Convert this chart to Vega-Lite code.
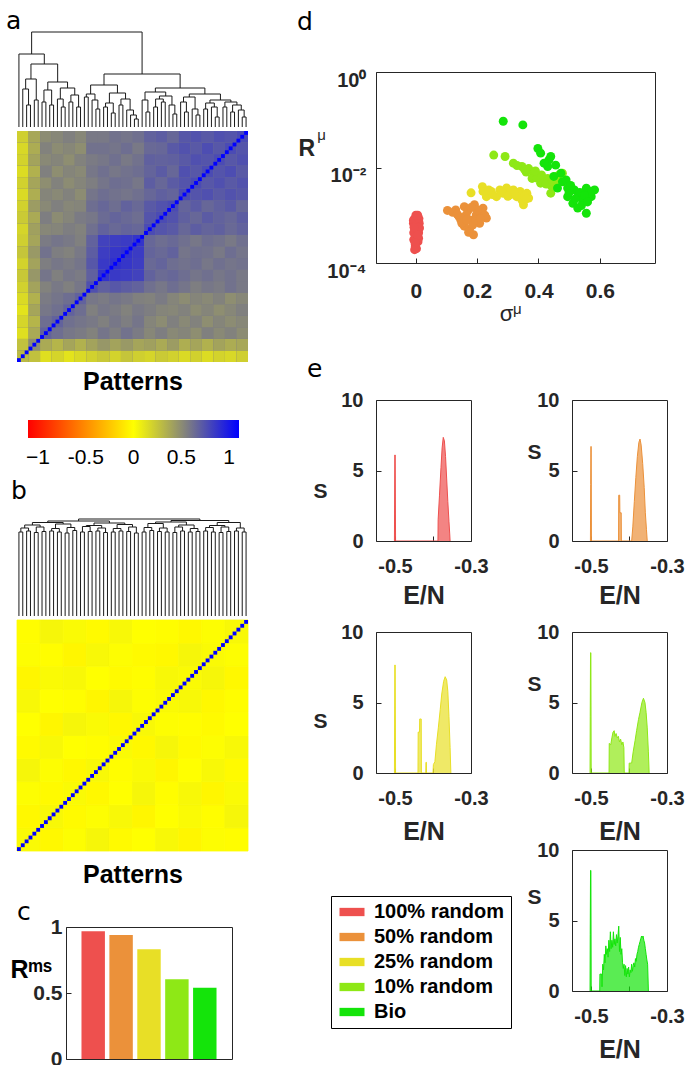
{
"$schema": "https://vega.github.io/schema/vega-lite/v6.json",
"padding": 0,
"background": "white",
"config": {
  "view": {"stroke": null},
  "font": "Liberation Sans",
  "axis": {"grid": false, "domain": false, "ticks": true, "tickSize": -5, "tickColor": "#262626", "labelFont": "Liberation Sans", "labelFontWeight": "bold", "labelFontSize": 20, "labelColor": "#262626", "titleFont": "Liberation Sans", "titleFontWeight": "bold", "titleColor": "#262626", "labelFlush": false, "labelOverlap": false},
  "title": {"font": "DejaVu Sans", "fontSize": 25, "fontWeight": "normal", "color": "#000", "anchor": "start", "frame": "group", "offset": 0}
},
"datasets": {
  "diag": [{"p":0},{"p":1},{"p":2},{"p":3},{"p":4},{"p":5},{"p":6},{"p":7},{"p":8},{"p":9},{"p":10},{"p":11},{"p":12},{"p":13},{"p":14},{"p":15},{"p":16},{"p":17},{"p":18},{"p":19},{"p":20},{"p":21},{"p":22},{"p":23},{"p":24},{"p":25},{"p":26},{"p":27},{"p":28},{"p":29},{"p":30},{"p":31},{"p":32},{"p":33},{"p":34},{"p":35},{"p":36},{"p":37},{"p":38},{"p":39},{"p":40},{"p":41},{"p":42},{"p":43},{"p":44},{"p":45},{"p":46},{"p":47},{"p":48},{"p":49},{"p":50},{"p":51},{"p":52},{"p":53},{"p":54},{"p":55},{"p":56},{"p":57},{"p":58},{"p":59}],
  "heatA": [
{"c":0,"r":0,"v":0.30},{"c":1,"r":0,"v":0.27},{"c":2,"r":0,"v":0.14},{"c":3,"r":0,"v":0.18},{"c":4,"r":0,"v":0.12},{"c":5,"r":0,"v":0.16},{"c":6,"r":0,"v":0.20},{"c":7,"r":0,"v":0.24},{"c":8,"r":0,"v":0.19},{"c":9,"r":0,"v":0.25},{"c":10,"r":0,"v":0.21},{"c":11,"r":0,"v":0.18},{"c":12,"r":0,"v":0.23},{"c":13,"r":0,"v":0.20},{"c":14,"r":0,"v":0.16},{"c":15,"r":0,"v":0.20},{"c":16,"r":0,"v":0.15},{"c":17,"r":0,"v":0.19},{"c":18,"r":0,"v":0.17},{"c":19,"r":0,"v":0.21},
{"c":0,"r":1,"v":0.27},{"c":1,"r":1,"v":0.50},{"c":2,"r":1,"v":0.37},{"c":3,"r":1,"v":0.32},{"c":4,"r":1,"v":0.39},{"c":5,"r":1,"v":0.34},{"c":6,"r":1,"v":0.40},{"c":7,"r":1,"v":0.45},{"c":8,"r":1,"v":0.40},{"c":9,"r":1,"v":0.44},{"c":10,"r":1,"v":0.39},{"c":11,"r":1,"v":0.41},{"c":12,"r":1,"v":0.37},{"c":13,"r":1,"v":0.43},{"c":14,"r":1,"v":0.35},{"c":15,"r":1,"v":0.39},{"c":16,"r":1,"v":0.34},{"c":17,"r":1,"v":0.40},{"c":18,"r":1,"v":0.36},{"c":19,"r":1,"v":0.38},
{"c":0,"r":2,"v":0.14},{"c":1,"r":2,"v":0.37},{"c":2,"r":2,"v":0.68},{"c":3,"r":2,"v":0.63},{"c":4,"r":2,"v":0.59},{"c":5,"r":2,"v":0.57},{"c":6,"r":2,"v":0.54},{"c":7,"r":2,"v":0.60},{"c":8,"r":2,"v":0.56},{"c":9,"r":2,"v":0.61},{"c":10,"r":2,"v":0.57},{"c":11,"r":2,"v":0.52},{"c":12,"r":2,"v":0.56},{"c":13,"r":2,"v":0.51},{"c":14,"r":2,"v":0.53},{"c":15,"r":2,"v":0.49},{"c":16,"r":2,"v":0.55},{"c":17,"r":2,"v":0.51},{"c":18,"r":2,"v":0.54},{"c":19,"r":2,"v":0.50},
{"c":0,"r":3,"v":0.18},{"c":1,"r":3,"v":0.32},{"c":2,"r":3,"v":0.63},{"c":3,"r":3,"v":0.68},{"c":4,"r":3,"v":0.62},{"c":5,"r":3,"v":0.60},{"c":6,"r":3,"v":0.58},{"c":7,"r":3,"v":0.55},{"c":8,"r":3,"v":0.59},{"c":9,"r":3,"v":0.56},{"c":10,"r":3,"v":0.60},{"c":11,"r":3,"v":0.53},{"c":12,"r":3,"v":0.50},{"c":13,"r":3,"v":0.55},{"c":14,"r":3,"v":0.51},{"c":15,"r":3,"v":0.54},{"c":16,"r":3,"v":0.49},{"c":17,"r":3,"v":0.53},{"c":18,"r":3,"v":0.50},{"c":19,"r":3,"v":0.52},
{"c":0,"r":4,"v":0.12},{"c":1,"r":4,"v":0.39},{"c":2,"r":4,"v":0.59},{"c":3,"r":4,"v":0.62},{"c":4,"r":4,"v":0.68},{"c":5,"r":4,"v":0.63},{"c":6,"r":4,"v":0.55},{"c":7,"r":4,"v":0.59},{"c":8,"r":4,"v":0.57},{"c":9,"r":4,"v":0.54},{"c":10,"r":4,"v":0.58},{"c":11,"r":4,"v":0.56},{"c":12,"r":4,"v":0.53},{"c":13,"r":4,"v":0.52},{"c":14,"r":4,"v":0.54},{"c":15,"r":4,"v":0.50},{"c":16,"r":4,"v":0.53},{"c":17,"r":4,"v":0.49},{"c":18,"r":4,"v":0.52},{"c":19,"r":4,"v":0.55},
{"c":0,"r":5,"v":0.16},{"c":1,"r":5,"v":0.34},{"c":2,"r":5,"v":0.57},{"c":3,"r":5,"v":0.60},{"c":4,"r":5,"v":0.63},{"c":5,"r":5,"v":0.68},{"c":6,"r":5,"v":0.59},{"c":7,"r":5,"v":0.57},{"c":8,"r":5,"v":0.60},{"c":9,"r":5,"v":0.58},{"c":10,"r":5,"v":0.55},{"c":11,"r":5,"v":0.54},{"c":12,"r":5,"v":0.57},{"c":13,"r":5,"v":0.53},{"c":14,"r":5,"v":0.50},{"c":15,"r":5,"v":0.53},{"c":16,"r":5,"v":0.51},{"c":17,"r":5,"v":0.54},{"c":18,"r":5,"v":0.49},{"c":19,"r":5,"v":0.52},
{"c":0,"r":6,"v":0.20},{"c":1,"r":6,"v":0.40},{"c":2,"r":6,"v":0.54},{"c":3,"r":6,"v":0.58},{"c":4,"r":6,"v":0.55},{"c":5,"r":6,"v":0.59},{"c":6,"r":6,"v":0.76},{"c":7,"r":6,"v":0.69},{"c":8,"r":6,"v":0.73},{"c":9,"r":6,"v":0.70},{"c":10,"r":6,"v":0.68},{"c":11,"r":6,"v":0.62},{"c":12,"r":6,"v":0.59},{"c":13,"r":6,"v":0.63},{"c":14,"r":6,"v":0.60},{"c":15,"r":6,"v":0.56},{"c":16,"r":6,"v":0.59},{"c":17,"r":6,"v":0.57},{"c":18,"r":6,"v":0.61},{"c":19,"r":6,"v":0.58},
{"c":0,"r":7,"v":0.24},{"c":1,"r":7,"v":0.45},{"c":2,"r":7,"v":0.60},{"c":3,"r":7,"v":0.55},{"c":4,"r":7,"v":0.59},{"c":5,"r":7,"v":0.57},{"c":6,"r":7,"v":0.69},{"c":7,"r":7,"v":0.89},{"c":8,"r":7,"v":0.86},{"c":9,"r":7,"v":0.84},{"c":10,"r":7,"v":0.82},{"c":11,"r":7,"v":0.68},{"c":12,"r":7,"v":0.64},{"c":13,"r":7,"v":0.66},{"c":14,"r":7,"v":0.63},{"c":15,"r":7,"v":0.60},{"c":16,"r":7,"v":0.62},{"c":17,"r":7,"v":0.59},{"c":18,"r":7,"v":0.61},{"c":19,"r":7,"v":0.58},
{"c":0,"r":8,"v":0.19},{"c":1,"r":8,"v":0.40},{"c":2,"r":8,"v":0.56},{"c":3,"r":8,"v":0.59},{"c":4,"r":8,"v":0.57},{"c":5,"r":8,"v":0.60},{"c":6,"r":8,"v":0.73},{"c":7,"r":8,"v":0.86},{"c":8,"r":8,"v":0.90},{"c":9,"r":8,"v":0.87},{"c":10,"r":8,"v":0.84},{"c":11,"r":8,"v":0.65},{"c":12,"r":8,"v":0.67},{"c":13,"r":8,"v":0.63},{"c":14,"r":8,"v":0.61},{"c":15,"r":8,"v":0.63},{"c":16,"r":8,"v":0.59},{"c":17,"r":8,"v":0.62},{"c":18,"r":8,"v":0.60},{"c":19,"r":8,"v":0.61},
{"c":0,"r":9,"v":0.25},{"c":1,"r":9,"v":0.44},{"c":2,"r":9,"v":0.61},{"c":3,"r":9,"v":0.56},{"c":4,"r":9,"v":0.54},{"c":5,"r":9,"v":0.58},{"c":6,"r":9,"v":0.70},{"c":7,"r":9,"v":0.84},{"c":8,"r":9,"v":0.87},{"c":9,"r":9,"v":0.89},{"c":10,"r":9,"v":0.85},{"c":11,"r":9,"v":0.67},{"c":12,"r":9,"v":0.65},{"c":13,"r":9,"v":0.68},{"c":14,"r":9,"v":0.60},{"c":15,"r":9,"v":0.62},{"c":16,"r":9,"v":0.61},{"c":17,"r":9,"v":0.58},{"c":18,"r":9,"v":0.63},{"c":19,"r":9,"v":0.60},
{"c":0,"r":10,"v":0.21},{"c":1,"r":10,"v":0.39},{"c":2,"r":10,"v":0.57},{"c":3,"r":10,"v":0.60},{"c":4,"r":10,"v":0.58},{"c":5,"r":10,"v":0.55},{"c":6,"r":10,"v":0.68},{"c":7,"r":10,"v":0.82},{"c":8,"r":10,"v":0.84},{"c":9,"r":10,"v":0.85},{"c":10,"r":10,"v":0.88},{"c":11,"r":10,"v":0.66},{"c":12,"r":10,"v":0.63},{"c":13,"r":10,"v":0.65},{"c":14,"r":10,"v":0.62},{"c":15,"r":10,"v":0.59},{"c":16,"r":10,"v":0.63},{"c":17,"r":10,"v":0.61},{"c":18,"r":10,"v":0.58},{"c":19,"r":10,"v":0.62},
{"c":0,"r":11,"v":0.18},{"c":1,"r":11,"v":0.41},{"c":2,"r":11,"v":0.52},{"c":3,"r":11,"v":0.53},{"c":4,"r":11,"v":0.56},{"c":5,"r":11,"v":0.54},{"c":6,"r":11,"v":0.62},{"c":7,"r":11,"v":0.68},{"c":8,"r":11,"v":0.65},{"c":9,"r":11,"v":0.67},{"c":10,"r":11,"v":0.66},{"c":11,"r":11,"v":0.78},{"c":12,"r":11,"v":0.74},{"c":13,"r":11,"v":0.72},{"c":14,"r":11,"v":0.66},{"c":15,"r":11,"v":0.70},{"c":16,"r":11,"v":0.67},{"c":17,"r":11,"v":0.69},{"c":18,"r":11,"v":0.65},{"c":19,"r":11,"v":0.68},
{"c":0,"r":12,"v":0.23},{"c":1,"r":12,"v":0.37},{"c":2,"r":12,"v":0.56},{"c":3,"r":12,"v":0.50},{"c":4,"r":12,"v":0.53},{"c":5,"r":12,"v":0.57},{"c":6,"r":12,"v":0.59},{"c":7,"r":12,"v":0.64},{"c":8,"r":12,"v":0.67},{"c":9,"r":12,"v":0.65},{"c":10,"r":12,"v":0.63},{"c":11,"r":12,"v":0.74},{"c":12,"r":12,"v":0.78},{"c":13,"r":12,"v":0.75},{"c":14,"r":12,"v":0.69},{"c":15,"r":12,"v":0.66},{"c":16,"r":12,"v":0.71},{"c":17,"r":12,"v":0.68},{"c":18,"r":12,"v":0.66},{"c":19,"r":12,"v":0.70},
{"c":0,"r":13,"v":0.20},{"c":1,"r":13,"v":0.43},{"c":2,"r":13,"v":0.51},{"c":3,"r":13,"v":0.55},{"c":4,"r":13,"v":0.52},{"c":5,"r":13,"v":0.53},{"c":6,"r":13,"v":0.63},{"c":7,"r":13,"v":0.66},{"c":8,"r":13,"v":0.63},{"c":9,"r":13,"v":0.68},{"c":10,"r":13,"v":0.65},{"c":11,"r":13,"v":0.72},{"c":12,"r":13,"v":0.75},{"c":13,"r":13,"v":0.78},{"c":14,"r":13,"v":0.67},{"c":15,"r":13,"v":0.71},{"c":16,"r":13,"v":0.66},{"c":17,"r":13,"v":0.69},{"c":18,"r":13,"v":0.72},{"c":19,"r":13,"v":0.66},
{"c":0,"r":14,"v":0.16},{"c":1,"r":14,"v":0.35},{"c":2,"r":14,"v":0.53},{"c":3,"r":14,"v":0.51},{"c":4,"r":14,"v":0.54},{"c":5,"r":14,"v":0.50},{"c":6,"r":14,"v":0.60},{"c":7,"r":14,"v":0.63},{"c":8,"r":14,"v":0.61},{"c":9,"r":14,"v":0.60},{"c":10,"r":14,"v":0.62},{"c":11,"r":14,"v":0.66},{"c":12,"r":14,"v":0.69},{"c":13,"r":14,"v":0.67},{"c":14,"r":14,"v":0.78},{"c":15,"r":14,"v":0.74},{"c":16,"r":14,"v":0.76},{"c":17,"r":14,"v":0.72},{"c":18,"r":14,"v":0.75},{"c":19,"r":14,"v":0.73},
{"c":0,"r":15,"v":0.20},{"c":1,"r":15,"v":0.39},{"c":2,"r":15,"v":0.49},{"c":3,"r":15,"v":0.54},{"c":4,"r":15,"v":0.50},{"c":5,"r":15,"v":0.53},{"c":6,"r":15,"v":0.56},{"c":7,"r":15,"v":0.60},{"c":8,"r":15,"v":0.63},{"c":9,"r":15,"v":0.62},{"c":10,"r":15,"v":0.59},{"c":11,"r":15,"v":0.70},{"c":12,"r":15,"v":0.66},{"c":13,"r":15,"v":0.71},{"c":14,"r":15,"v":0.74},{"c":15,"r":15,"v":0.78},{"c":16,"r":15,"v":0.73},{"c":17,"r":15,"v":0.76},{"c":18,"r":15,"v":0.72},{"c":19,"r":15,"v":0.75},
{"c":0,"r":16,"v":0.15},{"c":1,"r":16,"v":0.34},{"c":2,"r":16,"v":0.55},{"c":3,"r":16,"v":0.49},{"c":4,"r":16,"v":0.53},{"c":5,"r":16,"v":0.51},{"c":6,"r":16,"v":0.59},{"c":7,"r":16,"v":0.62},{"c":8,"r":16,"v":0.59},{"c":9,"r":16,"v":0.61},{"c":10,"r":16,"v":0.63},{"c":11,"r":16,"v":0.67},{"c":12,"r":16,"v":0.71},{"c":13,"r":16,"v":0.66},{"c":14,"r":16,"v":0.76},{"c":15,"r":16,"v":0.73},{"c":16,"r":16,"v":0.78},{"c":17,"r":16,"v":0.74},{"c":18,"r":16,"v":0.77},{"c":19,"r":16,"v":0.72},
{"c":0,"r":17,"v":0.19},{"c":1,"r":17,"v":0.40},{"c":2,"r":17,"v":0.51},{"c":3,"r":17,"v":0.53},{"c":4,"r":17,"v":0.49},{"c":5,"r":17,"v":0.54},{"c":6,"r":17,"v":0.57},{"c":7,"r":17,"v":0.59},{"c":8,"r":17,"v":0.62},{"c":9,"r":17,"v":0.58},{"c":10,"r":17,"v":0.61},{"c":11,"r":17,"v":0.69},{"c":12,"r":17,"v":0.68},{"c":13,"r":17,"v":0.69},{"c":14,"r":17,"v":0.72},{"c":15,"r":17,"v":0.76},{"c":16,"r":17,"v":0.74},{"c":17,"r":17,"v":0.78},{"c":18,"r":17,"v":0.73},{"c":19,"r":17,"v":0.76},
{"c":0,"r":18,"v":0.17},{"c":1,"r":18,"v":0.36},{"c":2,"r":18,"v":0.54},{"c":3,"r":18,"v":0.50},{"c":4,"r":18,"v":0.52},{"c":5,"r":18,"v":0.49},{"c":6,"r":18,"v":0.61},{"c":7,"r":18,"v":0.61},{"c":8,"r":18,"v":0.60},{"c":9,"r":18,"v":0.63},{"c":10,"r":18,"v":0.58},{"c":11,"r":18,"v":0.65},{"c":12,"r":18,"v":0.66},{"c":13,"r":18,"v":0.72},{"c":14,"r":18,"v":0.75},{"c":15,"r":18,"v":0.72},{"c":16,"r":18,"v":0.77},{"c":17,"r":18,"v":0.73},{"c":18,"r":18,"v":0.78},{"c":19,"r":18,"v":0.74},
{"c":0,"r":19,"v":0.21},{"c":1,"r":19,"v":0.38},{"c":2,"r":19,"v":0.50},{"c":3,"r":19,"v":0.52},{"c":4,"r":19,"v":0.55},{"c":5,"r":19,"v":0.52},{"c":6,"r":19,"v":0.58},{"c":7,"r":19,"v":0.58},{"c":8,"r":19,"v":0.61},{"c":9,"r":19,"v":0.60},{"c":10,"r":19,"v":0.62},{"c":11,"r":19,"v":0.68},{"c":12,"r":19,"v":0.70},{"c":13,"r":19,"v":0.66},{"c":14,"r":19,"v":0.73},{"c":15,"r":19,"v":0.75},{"c":16,"r":19,"v":0.72},{"c":17,"r":19,"v":0.76},{"c":18,"r":19,"v":0.74},{"c":19,"r":19,"v":0.78}
  ],
  "heatB": [
{"c":0,"r":0,"v":0.02},{"c":1,"r":0,"v":-0.03},{"c":2,"r":0,"v":0.01},{"c":3,"r":0,"v":0.04},{"c":4,"r":0,"v":-0.02},{"c":5,"r":0,"v":0.0},{"c":6,"r":0,"v":0.03},{"c":7,"r":0,"v":-0.04},{"c":8,"r":0,"v":0.01},{"c":9,"r":0,"v":-0.01},
{"c":0,"r":1,"v":-0.03},{"c":1,"r":1,"v":0.03},{"c":2,"r":1,"v":-0.02},{"c":3,"r":1,"v":0.01},{"c":4,"r":1,"v":0.03},{"c":5,"r":1,"v":-0.04},{"c":6,"r":1,"v":0.0},{"c":7,"r":1,"v":0.02},{"c":8,"r":1,"v":-0.01},{"c":9,"r":1,"v":0.04},
{"c":0,"r":2,"v":0.01},{"c":1,"r":2,"v":-0.02},{"c":2,"r":2,"v":0.02},{"c":3,"r":2,"v":-0.03},{"c":4,"r":2,"v":0.0},{"c":5,"r":2,"v":0.04},{"c":6,"r":2,"v":-0.01},{"c":7,"r":2,"v":0.03},{"c":8,"r":2,"v":-0.04},{"c":9,"r":2,"v":0.02},
{"c":0,"r":3,"v":0.04},{"c":1,"r":3,"v":0.01},{"c":2,"r":3,"v":-0.03},{"c":3,"r":3,"v":0.03},{"c":4,"r":3,"v":-0.01},{"c":5,"r":3,"v":0.02},{"c":6,"r":3,"v":-0.04},{"c":7,"r":3,"v":0.0},{"c":8,"r":3,"v":0.03},{"c":9,"r":3,"v":-0.02},
{"c":0,"r":4,"v":-0.02},{"c":1,"r":4,"v":0.03},{"c":2,"r":4,"v":0.0},{"c":3,"r":4,"v":-0.01},{"c":4,"r":4,"v":0.02},{"c":5,"r":4,"v":-0.03},{"c":6,"r":4,"v":0.04},{"c":7,"r":4,"v":-0.02},{"c":8,"r":4,"v":0.01},{"c":9,"r":4,"v":0.03},
{"c":0,"r":5,"v":0.0},{"c":1,"r":5,"v":-0.04},{"c":2,"r":5,"v":0.04},{"c":3,"r":5,"v":0.02},{"c":4,"r":5,"v":-0.03},{"c":5,"r":5,"v":0.03},{"c":6,"r":5,"v":0.01},{"c":7,"r":5,"v":-0.01},{"c":8,"r":5,"v":-0.02},{"c":9,"r":5,"v":0.0},
{"c":0,"r":6,"v":0.03},{"c":1,"r":6,"v":0.0},{"c":2,"r":6,"v":-0.01},{"c":3,"r":6,"v":-0.04},{"c":4,"r":6,"v":0.04},{"c":5,"r":6,"v":0.01},{"c":6,"r":6,"v":0.02},{"c":7,"r":6,"v":0.03},{"c":8,"r":6,"v":-0.03},{"c":9,"r":6,"v":-0.01},
{"c":0,"r":7,"v":-0.04},{"c":1,"r":7,"v":0.02},{"c":2,"r":7,"v":0.03},{"c":3,"r":7,"v":0.0},{"c":4,"r":7,"v":-0.02},{"c":5,"r":7,"v":-0.01},{"c":6,"r":7,"v":0.03},{"c":7,"r":7,"v":0.02},{"c":8,"r":7,"v":0.04},{"c":9,"r":7,"v":-0.03},
{"c":0,"r":8,"v":0.01},{"c":1,"r":8,"v":-0.01},{"c":2,"r":8,"v":-0.04},{"c":3,"r":8,"v":0.03},{"c":4,"r":8,"v":0.01},{"c":5,"r":8,"v":-0.02},{"c":6,"r":8,"v":-0.03},{"c":7,"r":8,"v":0.04},{"c":8,"r":8,"v":0.02},{"c":9,"r":8,"v":0.01},
{"c":0,"r":9,"v":-0.01},{"c":1,"r":9,"v":0.04},{"c":2,"r":9,"v":0.02},{"c":3,"r":9,"v":-0.02},{"c":4,"r":9,"v":0.03},{"c":5,"r":9,"v":0.0},{"c":6,"r":9,"v":-0.01},{"c":7,"r":9,"v":-0.03},{"c":8,"r":9,"v":0.01},{"c":9,"r":9,"v":0.03}
  ],
  "dendA": [
{"xl":2.5,"hl":0,"xr":3.5,"hr":0,"h":22},{"xl":1.5,"hl":0,"xr":3.0,"hr":22,"h":38},{"xl":4.5,"hl":0,"xr":5.5,"hr":0,"h":27},{"xl":2.25,"hl":38,"xr":5.0,"hr":27,"h":48},
{"xl":6.5,"hl":0,"xr":7.5,"hr":0,"h":25},{"xl":8.5,"hl":0,"xr":9.5,"hr":0,"h":22},{"xl":7.0,"hl":25,"xr":9.0,"hr":22,"h":37},{"xl":11.5,"hl":0,"xr":12.5,"hr":0,"h":20},
{"xl":10.5,"hl":0,"xr":12.0,"hr":20,"h":28},{"xl":13.5,"hl":0,"xr":14.5,"hr":0,"h":25},{"xl":15.5,"hl":0,"xr":16.5,"hr":0,"h":20},{"xl":14.0,"hl":25,"xr":16.0,"hr":20,"h":32},
{"xl":11.25,"hl":28,"xr":15.0,"hr":32,"h":39},{"xl":8.0,"hl":37,"xr":13.125,"hr":39,"h":45},{"xl":3.625,"hl":48,"xr":10.5625,"hr":45,"h":63},{"xl":0.5,"hl":0,"xr":7.094,"hr":63,"h":73},
{"xl":17.5,"hl":0,"xr":18.5,"hr":0,"h":30},{"xl":20.5,"hl":0,"xr":21.5,"hr":0,"h":18},{"xl":19.5,"hl":0,"xr":21.0,"hr":18,"h":27},{"xl":18.0,"hl":30,"xr":20.25,"hr":27,"h":33},
{"xl":22.5,"hl":0,"xr":23.5,"hr":0,"h":20},{"xl":24.5,"hl":0,"xr":25.5,"hr":0,"h":14},{"xl":23.0,"hl":20,"xr":25.0,"hr":14,"h":24},{"xl":26.5,"hl":0,"xr":27.5,"hr":0,"h":22},
{"xl":30.5,"hl":0,"xr":31.5,"hr":0,"h":8},{"xl":29.5,"hl":0,"xr":31.0,"hr":8,"h":12},{"xl":28.5,"hl":0,"xr":30.25,"hr":12,"h":17},{"xl":27.0,"hl":22,"xr":29.375,"hr":17,"h":28},
{"xl":24.0,"hl":24,"xr":28.19,"hr":28,"h":34},{"xl":19.125,"hl":33,"xr":26.09,"hr":34,"h":42},
{"xl":33.5,"hl":0,"xr":34.5,"hr":0,"h":15},{"xl":32.5,"hl":0,"xr":34.0,"hr":15,"h":27},{"xl":35.5,"hl":0,"xr":36.5,"hr":0,"h":20},{"xl":37.5,"hl":0,"xr":38.5,"hr":0,"h":25},
{"xl":36.0,"hl":20,"xr":38.0,"hr":25,"h":28},{"xl":40.5,"hl":0,"xr":41.5,"hr":0,"h":13},{"xl":39.5,"hl":0,"xr":41.0,"hr":13,"h":22},{"xl":37.0,"hl":28,"xr":40.25,"hr":22,"h":31},
{"xl":33.25,"hl":27,"xr":38.625,"hr":31,"h":35},{"xl":43.5,"hl":0,"xr":44.5,"hr":0,"h":15},{"xl":42.5,"hl":0,"xr":44.0,"hr":15,"h":25},{"xl":46.5,"hl":0,"xr":47.5,"hr":0,"h":12},
{"xl":45.5,"hl":0,"xr":47.0,"hr":12,"h":18},{"xl":43.25,"hl":25,"xr":46.25,"hr":18,"h":30},{"xl":48.5,"hl":0,"xr":49.5,"hr":0,"h":18},{"xl":51.5,"hl":0,"xr":52.5,"hr":0,"h":10},
{"xl":50.5,"hl":0,"xr":52.0,"hr":10,"h":20},{"xl":49.0,"hl":18,"xr":51.25,"hr":20,"h":24},{"xl":53.5,"hl":0,"xr":54.5,"hr":0,"h":20},{"xl":55.5,"hl":0,"xr":56.5,"hr":0,"h":15},
{"xl":58.5,"hl":0,"xr":59.5,"hr":0,"h":10},{"xl":57.5,"hl":0,"xr":59.0,"hr":10,"h":17},{"xl":56.0,"hl":15,"xr":58.25,"hr":17,"h":22},{"xl":54.0,"hl":20,"xr":57.125,"hr":22,"h":25},
{"xl":50.125,"hl":24,"xr":55.56,"hr":25,"h":27},{"xl":44.75,"hl":30,"xr":52.84,"hr":27,"h":33},{"xl":35.94,"hl":35,"xr":48.8,"hr":33,"h":39},{"xl":22.6,"hl":42,"xr":42.37,"hr":39,"h":53},
{"xl":3.8,"hl":73,"xr":32.49,"hr":53,"h":95}
  ],
  "dendB": [
{"xl":0.5,"hl":0,"xr":1.5,"hr":0,"h":84},{"xl":2.5,"hl":0,"xr":3.5,"hr":0,"h":85},{"xl":4.5,"hl":0,"xr":5.5,"hr":0,"h":83.5},{"xl":6.5,"hl":0,"xr":7.5,"hr":0,"h":84.5},
{"xl":8.5,"hl":0,"xr":9.5,"hr":0,"h":85},{"xl":10.5,"hl":0,"xr":11.5,"hr":0,"h":84},{"xl":12.5,"hl":0,"xr":13.5,"hr":0,"h":83},{"xl":14.5,"hl":0,"xr":15.5,"hr":0,"h":85.5},
{"xl":16.5,"hl":0,"xr":17.5,"hr":0,"h":84},{"xl":18.5,"hl":0,"xr":19.5,"hr":0,"h":84.5},{"xl":20.5,"hl":0,"xr":21.5,"hr":0,"h":85},{"xl":22.5,"hl":0,"xr":23.5,"hr":0,"h":83.5},
{"xl":24.5,"hl":0,"xr":25.5,"hr":0,"h":84},{"xl":26.5,"hl":0,"xr":27.5,"hr":0,"h":85},{"xl":28.5,"hl":0,"xr":29.5,"hr":0,"h":84.5},{"xl":30.5,"hl":0,"xr":31.5,"hr":0,"h":83},
{"xl":32.5,"hl":0,"xr":33.5,"hr":0,"h":84},{"xl":34.5,"hl":0,"xr":35.5,"hr":0,"h":85.5},{"xl":36.5,"hl":0,"xr":37.5,"hr":0,"h":84.5},{"xl":38.5,"hl":0,"xr":39.5,"hr":0,"h":84},
{"xl":40.5,"hl":0,"xr":41.5,"hr":0,"h":83.5},{"xl":42.5,"hl":0,"xr":43.5,"hr":0,"h":85},{"xl":44.5,"hl":0,"xr":45.5,"hr":0,"h":84},{"xl":46.5,"hl":0,"xr":47.5,"hr":0,"h":84.5},
{"xl":48.5,"hl":0,"xr":49.5,"hr":0,"h":85},{"xl":50.5,"hl":0,"xr":51.5,"hr":0,"h":84},{"xl":52.5,"hl":0,"xr":53.5,"hr":0,"h":83.5},{"xl":54.5,"hl":0,"xr":55.5,"hr":0,"h":84.5},
{"xl":56.5,"hl":0,"xr":57.5,"hr":0,"h":85},{"xl":58.5,"hl":0,"xr":59.5,"hr":0,"h":84},
{"xl":1,"hl":84,"xr":3,"hr":85,"h":88},{"xl":5,"hl":83.5,"xr":7,"hr":84.5,"h":89},{"xl":9,"hl":85,"xr":11,"hr":84,"h":87.5},{"xl":13,"hl":83,"xr":15,"hr":85.5,"h":88.5},
{"xl":17,"hl":84,"xr":19,"hr":84.5,"h":89.5},{"xl":21,"hl":85,"xr":23,"hr":83.5,"h":88},{"xl":25,"hl":84,"xr":27,"hr":85,"h":87.5},{"xl":29,"hl":84.5,"xr":31,"hr":83,"h":89},
{"xl":33,"hl":84,"xr":35,"hr":85.5,"h":88.5},{"xl":37,"hl":84.5,"xr":39,"hr":84,"h":88},{"xl":41,"hl":83.5,"xr":43,"hr":85,"h":89},{"xl":45,"hl":84,"xr":47,"hr":84.5,"h":87.5},
{"xl":49,"hl":85,"xr":51,"hr":84,"h":88.5},{"xl":53,"hl":83.5,"xr":55,"hr":84.5,"h":89},{"xl":57,"hl":85,"xr":59,"hr":84,"h":88},
{"xl":2,"hl":88,"xr":6,"hr":89,"h":91},{"xl":10,"hl":87.5,"xr":14,"hr":88.5,"h":92},{"xl":18,"hl":89.5,"xr":22,"hr":88,"h":90.5},{"xl":26,"hl":87.5,"xr":30,"hr":89,"h":91.5},
{"xl":34,"hl":88.5,"xr":38,"hr":88,"h":92.5},{"xl":42,"hl":89,"xr":46,"hr":87.5,"h":91},{"xl":50,"hl":88.5,"xr":54,"hr":89,"h":90.5},
{"xl":4,"hl":91,"xr":12,"hr":92,"h":93.5},{"xl":20,"hl":90.5,"xr":28,"hr":91.5,"h":93},{"xl":36,"hl":92.5,"xr":44,"hr":91,"h":94},{"xl":52,"hl":90.5,"xr":58,"hr":88,"h":93.5},
{"xl":8,"hl":93.5,"xr":24,"hr":93,"h":95},{"xl":40,"hl":94,"xr":55,"hr":93.5,"h":95.5},
{"xl":16,"hl":95,"xr":47.5,"hr":95.5,"h":97}
  ],
  "groups": [{"g":"100% random","R":0.967},{"g":"50% random","R":0.94},{"g":"25% random","R":0.831},{"g":"10% random","R":0.605},{"g":"Bio","R":0.539}],
  "pts": [
{"g":"100% random","s":-0.002,"R":0.00087},{"g":"100% random","s":0.009,"R":0.00079},{"g":"100% random","s":-0.008,"R":0.00068},{"g":"100% random","s":0.003,"R":0.00059},{"g":"100% random","s":-0.004,"R":0.0005},{"g":"100% random","s":0.009,"R":0.00043},{"g":"100% random","s":0.0,"R":0.00036},{"g":"100% random","s":-0.007,"R":0.00031},{"g":"100% random","s":0.007,"R":0.00028},{"g":"100% random","s":-0.002,"R":0.00024},{"g":"100% random","s":0.002,"R":0.0002},{"g":"100% random","s":0.011,"R":0.00068},{"g":"100% random","s":-0.007,"R":0.00043},{"g":"100% random","s":0.009,"R":0.00033},{"g":"100% random","s":-0.008,"R":0.00079},{"g":"100% random","s":0.004,"R":0.0005},{"g":"100% random","s":-0.002,"R":0.00022},{"g":"100% random","s":0.012,"R":0.00054},{"g":"100% random","s":0.005,"R":0.0009},{"g":"100% random","s":-0.005,"R":0.00082},{"g":"100% random","s":0.006,"R":0.00038},{"g":"100% random","s":-0.006,"R":0.00056},{"g":"100% random","s":0.01,"R":0.00085},{"g":"100% random","s":-0.003,"R":0.00027},{"g":"100% random","s":0.0,"R":0.001},{"g":"100% random","s":0.006,"R":0.001},{"g":"100% random","s":-0.004,"R":0.00019},
{"g":"50% random","s":0.103,"R":0.00126},{"g":"50% random","s":0.13,"R":0.00129},{"g":"50% random","s":0.158,"R":0.00151},{"g":"50% random","s":0.191,"R":0.00166},{"g":"50% random","s":0.219,"R":0.00141},{"g":"50% random","s":0.23,"R":0.00087},{"g":"50% random","s":0.208,"R":0.00068},{"g":"50% random","s":0.175,"R":0.0005},{"g":"50% random","s":0.188,"R":0.00039},{"g":"50% random","s":0.147,"R":0.00079},{"g":"50% random","s":0.164,"R":0.00102},{"g":"50% random","s":0.197,"R":0.00102},{"g":"50% random","s":0.141,"R":0.00093},{"g":"50% random","s":0.18,"R":0.00079},{"g":"50% random","s":0.213,"R":0.0011},{"g":"50% random","s":0.158,"R":0.00059},{"g":"50% random","s":0.12,"R":0.00115},{"g":"50% random","s":0.17,"R":0.00125},{"g":"50% random","s":0.2,"R":0.0013},{"g":"50% random","s":0.185,"R":0.00062},{"g":"50% random","s":0.225,"R":0.001},{"g":"50% random","s":0.15,"R":0.00068},{"g":"50% random","s":0.165,"R":0.0008},{"g":"50% random","s":0.195,"R":0.0008},{"g":"50% random","s":0.135,"R":0.00105},{"g":"50% random","s":0.21,"R":0.00085},{"g":"50% random","s":0.172,"R":0.00044},{"g":"50% random","s":0.18,"R":0.00145},
{"g":"25% random","s":0.18,"R":0.00295},{"g":"25% random","s":0.217,"R":0.00398},{"g":"25% random","s":0.246,"R":0.00316},{"g":"25% random","s":0.274,"R":0.00339},{"g":"25% random","s":0.296,"R":0.00372},{"g":"25% random","s":0.318,"R":0.00339},{"g":"25% random","s":0.34,"R":0.00316},{"g":"25% random","s":0.362,"R":0.00288},{"g":"25% random","s":0.368,"R":0.00229},{"g":"25% random","s":0.351,"R":0.00166},{"g":"25% random","s":0.263,"R":0.00245},{"g":"25% random","s":0.23,"R":0.00245},{"g":"25% random","s":0.307,"R":0.00269},{"g":"25% random","s":0.329,"R":0.00245},{"g":"25% random","s":0.285,"R":0.00288},{"g":"25% random","s":0.346,"R":0.00209},{"g":"25% random","s":0.219,"R":0.00316},{"g":"25% random","s":0.25,"R":0.0027},{"g":"25% random","s":0.28,"R":0.003},{"g":"25% random","s":0.31,"R":0.0031},{"g":"25% random","s":0.335,"R":0.0028},{"g":"25% random","s":0.355,"R":0.0025},{"g":"25% random","s":0.238,"R":0.0034},{"g":"25% random","s":0.3,"R":0.0025},{"g":"25% random","s":0.36,"R":0.0022},{"g":"25% random","s":0.322,"R":0.0029},
{"g":"10% random","s":0.254,"R":0.0182},{"g":"10% random","s":0.291,"R":0.017},{"g":"10% random","s":0.318,"R":0.0123},{"g":"10% random","s":0.346,"R":0.0105},{"g":"10% random","s":0.368,"R":0.0095},{"g":"10% random","s":0.385,"R":0.0076},{"g":"10% random","s":0.401,"R":0.0065},{"g":"10% random","s":0.418,"R":0.005},{"g":"10% random","s":0.44,"R":0.0043},{"g":"10% random","s":0.44,"R":0.0029},{"g":"10% random","s":0.478,"R":0.0076},{"g":"10% random","s":0.462,"R":0.0055},{"g":"10% random","s":0.379,"R":0.0059},{"g":"10% random","s":0.43,"R":0.0059},{"g":"10% random","s":0.407,"R":0.0047},{"g":"10% random","s":0.45,"R":0.004},{"g":"10% random","s":0.33,"R":0.011},{"g":"10% random","s":0.36,"R":0.008},{"g":"10% random","s":0.395,"R":0.006},{"g":"10% random","s":0.425,"R":0.0045},{"g":"10% random","s":0.355,"R":0.009},{"g":"10% random","s":0.41,"R":0.007},{"g":"10% random","s":0.445,"R":0.0052},{"g":"10% random","s":0.39,"R":0.0085},{"g":"10% random","s":0.465,"R":0.0068},
{"g":"Bio","s":0.285,"R":0.093},{"g":"Bio","s":0.349,"R":0.078},{"g":"Bio","s":0.398,"R":0.025},{"g":"Bio","s":0.407,"R":0.02},{"g":"Bio","s":0.434,"R":0.0145},{"g":"Bio","s":0.456,"R":0.0112},{"g":"Bio","s":0.43,"R":0.0105},{"g":"Bio","s":0.473,"R":0.0076},{"g":"Bio","s":0.478,"R":0.005},{"g":"Bio","s":0.462,"R":0.0037},{"g":"Bio","s":0.495,"R":0.0037},{"g":"Bio","s":0.517,"R":0.0034},{"g":"Bio","s":0.556,"R":0.0037},{"g":"Bio","s":0.583,"R":0.0034},{"g":"Bio","s":0.528,"R":0.00245},{"g":"Bio","s":0.545,"R":0.0021},{"g":"Bio","s":0.512,"R":0.00178},{"g":"Bio","s":0.528,"R":0.00141},{"g":"Bio","s":0.556,"R":0.0011},{"g":"Bio","s":0.572,"R":0.00245},{"g":"Bio","s":0.495,"R":0.00245},{"g":"Bio","s":0.44,"R":0.017},{"g":"Bio","s":0.418,"R":0.0123},{"g":"Bio","s":0.45,"R":0.0065},{"g":"Bio","s":0.5,"R":0.003},{"g":"Bio","s":0.535,"R":0.003},{"g":"Bio","s":0.565,"R":0.0029},{"g":"Bio","s":0.54,"R":0.0016},{"g":"Bio","s":0.49,"R":0.0055},{"g":"Bio","s":0.575,"R":0.0032},{"g":"Bio","s":0.55,"R":0.0026},{"g":"Bio","s":0.52,"R":0.0022},{"g":"Bio","s":0.505,"R":0.0042},{"g":"Bio","s":0.56,"R":0.0019}
  ],
  "hist": [
{"g":"100% random","E":-0.5015,"S":0},{"g":"100% random","E":-0.5005,"S":6.1},{"g":"100% random","E":-0.4995,"S":6.1},{"g":"100% random","E":-0.4985,"S":0},{"g":"100% random","E":-0.387,"S":0},{"g":"100% random","E":-0.3865,"S":1.5},{"g":"100% random","E":-0.383,"S":3.2},{"g":"100% random","E":-0.379,"S":5.2},{"g":"100% random","E":-0.376,"S":6.6},{"g":"100% random","E":-0.373,"S":7.35},{"g":"100% random","E":-0.37,"S":7.1},{"g":"100% random","E":-0.367,"S":6.0},{"g":"100% random","E":-0.364,"S":4.4},{"g":"100% random","E":-0.361,"S":2.8},{"g":"100% random","E":-0.358,"S":1.4},{"g":"100% random","E":-0.356,"S":0.5},{"g":"100% random","E":-0.355,"S":0},
{"g":"50% random","E":-0.5015,"S":0},{"g":"50% random","E":-0.5008,"S":4},{"g":"50% random","E":-0.5003,"S":6.7},{"g":"50% random","E":-0.4995,"S":6.7},{"g":"50% random","E":-0.4988,"S":0},{"g":"50% random","E":-0.4275,"S":0},{"g":"50% random","E":-0.427,"S":3.25},{"g":"50% random","E":-0.4245,"S":3.25},{"g":"50% random","E":-0.424,"S":2},{"g":"50% random","E":-0.4205,"S":2},{"g":"50% random","E":-0.42,"S":0},{"g":"50% random","E":-0.393,"S":0},{"g":"50% random","E":-0.39,"S":1.0},{"g":"50% random","E":-0.386,"S":2.8},{"g":"50% random","E":-0.382,"S":4.5},{"g":"50% random","E":-0.378,"S":6.0},{"g":"50% random","E":-0.374,"S":7.0},{"g":"50% random","E":-0.371,"S":7.23},{"g":"50% random","E":-0.368,"S":6.8},{"g":"50% random","E":-0.364,"S":5.5},{"g":"50% random","E":-0.36,"S":3.8},{"g":"50% random","E":-0.357,"S":2.0},{"g":"50% random","E":-0.354,"S":0.8},{"g":"50% random","E":-0.352,"S":0},
{"g":"25% random","E":-0.5015,"S":0},{"g":"25% random","E":-0.5005,"S":7.66},{"g":"25% random","E":-0.4995,"S":7.66},{"g":"25% random","E":-0.4985,"S":0},{"g":"25% random","E":-0.4395,"S":0},{"g":"25% random","E":-0.439,"S":2.9},{"g":"25% random","E":-0.4355,"S":2.9},{"g":"25% random","E":-0.435,"S":3.83},{"g":"25% random","E":-0.431,"S":3.83},{"g":"25% random","E":-0.4305,"S":0},{"g":"25% random","E":-0.419,"S":0},{"g":"25% random","E":-0.4185,"S":0.76},{"g":"25% random","E":-0.4175,"S":0.76},{"g":"25% random","E":-0.417,"S":0},{"g":"25% random","E":-0.4,"S":0},{"g":"25% random","E":-0.399,"S":0.6},{"g":"25% random","E":-0.395,"S":0.8},{"g":"25% random","E":-0.391,"S":2.0},{"g":"25% random","E":-0.386,"S":3.2},{"g":"25% random","E":-0.381,"S":4.5},{"g":"25% random","E":-0.377,"S":5.6},{"g":"25% random","E":-0.372,"S":6.5},{"g":"25% random","E":-0.368,"S":6.83},{"g":"25% random","E":-0.364,"S":6.6},{"g":"25% random","E":-0.361,"S":5.8},{"g":"25% random","E":-0.358,"S":4.0},{"g":"25% random","E":-0.355,"S":1.8},{"g":"25% random","E":-0.353,"S":0},
{"g":"10% random","E":-0.5025,"S":0},{"g":"10% random","E":-0.502,"S":4},{"g":"10% random","E":-0.5012,"S":8.53},{"g":"10% random","E":-0.5003,"S":8.53},{"g":"10% random","E":-0.4995,"S":0},{"g":"10% random","E":-0.4525,"S":0},{"g":"10% random","E":-0.452,"S":2.1},{"g":"10% random","E":-0.448,"S":2.0},{"g":"10% random","E":-0.445,"S":2.5},{"g":"10% random","E":-0.442,"S":2.9},{"g":"10% random","E":-0.439,"S":3.0},{"g":"10% random","E":-0.437,"S":2.6},{"g":"10% random","E":-0.434,"S":2.8},{"g":"10% random","E":-0.431,"S":2.5},{"g":"10% random","E":-0.428,"S":2.6},{"g":"10% random","E":-0.425,"S":2.2},{"g":"10% random","E":-0.422,"S":2.4},{"g":"10% random","E":-0.419,"S":2.0},{"g":"10% random","E":-0.416,"S":2.2},{"g":"10% random","E":-0.4135,"S":1.8},{"g":"10% random","E":-0.4125,"S":0},{"g":"10% random","E":-0.4,"S":0},{"g":"10% random","E":-0.3995,"S":0.7},{"g":"10% random","E":-0.393,"S":0.7},{"g":"10% random","E":-0.389,"S":1.5},{"g":"10% random","E":-0.384,"S":2.3},{"g":"10% random","E":-0.38,"S":3.0},{"g":"10% random","E":-0.375,"S":3.8},{"g":"10% random","E":-0.371,"S":4.3},{"g":"10% random","E":-0.366,"S":5.0},{"g":"10% random","E":-0.362,"S":5.3},{"g":"10% random","E":-0.358,"S":5.0},{"g":"10% random","E":-0.355,"S":4.3},{"g":"10% random","E":-0.352,"S":3.2},{"g":"10% random","E":-0.349,"S":1.5},{"g":"10% random","E":-0.347,"S":0},
{"g":"Bio","E":-0.5025,"S":0},{"g":"Bio","E":-0.502,"S":4},{"g":"Bio","E":-0.5012,"S":8.55},{"g":"Bio","E":-0.5003,"S":8.55},{"g":"Bio","E":-0.4995,"S":0},{"g":"Bio","E":-0.477,"S":0},{"g":"Bio","E":-0.4765,"S":1.2},{"g":"Bio","E":-0.472,"S":1.2},{"g":"Bio","E":-0.471,"S":0.3},{"g":"Bio","E":-0.469,"S":1.9},{"g":"Bio","E":-0.467,"S":1.5},{"g":"Bio","E":-0.465,"S":2.6},{"g":"Bio","E":-0.463,"S":2.0},{"g":"Bio","E":-0.461,"S":3.2},{"g":"Bio","E":-0.459,"S":2.6},{"g":"Bio","E":-0.457,"S":3.0},{"g":"Bio","E":-0.455,"S":2.4},{"g":"Bio","E":-0.453,"S":3.6},{"g":"Bio","E":-0.451,"S":2.8},{"g":"Bio","E":-0.449,"S":4.2},{"g":"Bio","E":-0.447,"S":3.0},{"g":"Bio","E":-0.445,"S":3.6},{"g":"Bio","E":-0.443,"S":3.1},{"g":"Bio","E":-0.441,"S":4.2},{"g":"Bio","E":-0.439,"S":3.3},{"g":"Bio","E":-0.437,"S":3.7},{"g":"Bio","E":-0.435,"S":3.2},{"g":"Bio","E":-0.433,"S":4.0},{"g":"Bio","E":-0.431,"S":3.4},{"g":"Bio","E":-0.429,"S":3.9},{"g":"Bio","E":-0.427,"S":4.6},{"g":"Bio","E":-0.425,"S":2.8},{"g":"Bio","E":-0.423,"S":3.8},{"g":"Bio","E":-0.421,"S":2.6},{"g":"Bio","E":-0.419,"S":3.0},{"g":"Bio","E":-0.417,"S":2.0},{"g":"Bio","E":-0.415,"S":1.6},{"g":"Bio","E":-0.413,"S":1.9},{"g":"Bio","E":-0.411,"S":1.1},{"g":"Bio","E":-0.409,"S":1.8},{"g":"Bio","E":-0.407,"S":1.0},{"g":"Bio","E":-0.405,"S":1.6},{"g":"Bio","E":-0.403,"S":1.2},{"g":"Bio","E":-0.401,"S":1.7},{"g":"Bio","E":-0.399,"S":1.0},{"g":"Bio","E":-0.397,"S":1.5},{"g":"Bio","E":-0.395,"S":1.3},{"g":"Bio","E":-0.393,"S":1.9},{"g":"Bio","E":-0.391,"S":1.4},{"g":"Bio","E":-0.389,"S":1.8},{"g":"Bio","E":-0.387,"S":2.0},{"g":"Bio","E":-0.385,"S":1.7},{"g":"Bio","E":-0.383,"S":2.3},{"g":"Bio","E":-0.381,"S":2.1},{"g":"Bio","E":-0.379,"S":2.6},{"g":"Bio","E":-0.377,"S":2.8},{"g":"Bio","E":-0.375,"S":3.1},{"g":"Bio","E":-0.373,"S":3.3},{"g":"Bio","E":-0.371,"S":3.5},{"g":"Bio","E":-0.369,"S":3.7},{"g":"Bio","E":-0.367,"S":3.9},{"g":"Bio","E":-0.365,"S":3.8},{"g":"Bio","E":-0.363,"S":3.9},{"g":"Bio","E":-0.361,"S":3.6},{"g":"Bio","E":-0.359,"S":3.4},{"g":"Bio","E":-0.357,"S":3.0},{"g":"Bio","E":-0.355,"S":2.6},{"g":"Bio","E":-0.353,"S":2.2},{"g":"Bio","E":-0.351,"S":1.9},{"g":"Bio","E":-0.3495,"S":0.5},{"g":"Bio","E":-0.349,"S":0}
  ]
},
"bounds": "flush",
"spacing": 0,
"resolve": {"scale": {"color": "independent", "stroke": "independent"}, "legend": {"color": "independent", "stroke": "independent"}},
"hconcat": [
  {"width": 17, "height": 1, "data": {"values": []}, "mark": "point"},
  {"bounds": "flush", "spacing": 0,
   "resolve": {"scale": {"color": "independent", "stroke": "independent"}, "legend": {"color": "independent", "stroke": "independent"}},
   "vconcat": [
    {"width": 231, "height": 27, "data": {"values": []}, "mark": "point"},
    {"width": 231, "height": 100, "title": {"text": "a", "dx": -11, "dy": 11}, "data": {"name": "dendA"},
     "layer": [
      {"mark": {"type": "rule", "color": "#1a1a1a", "strokeWidth": 1}, "encoding": {"x": {"field": "xl", "type": "quantitative", "scale": {"domain": [0, 60], "nice": false, "zero": false}, "axis": null}, "y": {"field": "hl", "type": "quantitative", "scale": {"domain": [0, 100], "nice": false}, "axis": null}, "y2": {"field": "h"}}},
      {"mark": {"type": "rule", "color": "#1a1a1a", "strokeWidth": 1}, "encoding": {"x": {"field": "xr", "type": "quantitative", "scale": {"domain": [0, 60], "nice": false, "zero": false}, "axis": null}, "y": {"field": "hr", "type": "quantitative", "scale": {"domain": [0, 100], "nice": false}, "axis": null}, "y2": {"field": "h"}}},
      {"mark": {"type": "rule", "color": "#1a1a1a", "strokeWidth": 1}, "encoding": {"x": {"field": "xl", "type": "quantitative", "scale": {"domain": [0, 60], "nice": false, "zero": false}, "axis": null}, "x2": {"field": "xr"}, "y": {"field": "h", "type": "quantitative", "scale": {"domain": [0, 100], "nice": false}, "axis": null}}}
     ]},
    {"width": 231, "height": 4, "data": {"values": []}, "mark": "point"},
    {"width": 231, "height": 231, "view": {"fill": "#77778c"},
     "layer": [
      {"data": {"name": "heatA"}, "mark": {"type": "rect"},
       "encoding": {
        "x": {"field": "c", "type": "ordinal", "scale": {"paddingInner": 0, "paddingOuter": 0}, "axis": {"labels": false, "ticks": false, "domain": false, "title": "Patterns", "titleFontSize": 25, "titleColor": "#000", "titlePadding": 7}},
        "y": {"field": "r", "type": "ordinal", "sort": "descending", "scale": {"paddingInner": 0, "paddingOuter": 0}, "axis": null},
        "color": {"field": "v", "type": "quantitative", "scale": {"domain": [-1.105, 0, 1.105], "range": ["#ff0000", "#ffff00", "#0000ff"], "interpolate": "rgb"},
          "legend": {"type": "gradient", "orient": "none", "legendX": 11, "legendY": 289, "direction": "horizontal", "gradientLength": 211, "gradientThickness": 18, "title": null, "values": [-1, -0.5, 0, 0.5, 1], "labelFontSize": 21, "labelFont": "Liberation Sans", "labelFontWeight": "normal", "labelColor": "#000", "labelOffset": 9, "labelAlign": "center", "gradientStrokeWidth": 0, "padding": 0, "labelOverlap": false, "labelExpr": "datum.value == -1 ? '−1' : (datum.value == -0.5 ? '-0.5' : (datum.value == 0 ? '0' : (datum.value == 0.5 ? '0.5' : '1')))"}}
       }},
      {"data": {"name": "diag"}, "mark": {"type": "rect", "color": "#0000ff"},
       "encoding": {
        "x": {"field": "p", "type": "ordinal", "scale": {"paddingInner": 0, "paddingOuter": 0}, "axis": null},
        "y": {"field": "p", "type": "ordinal", "sort": "descending", "scale": {"paddingInner": 0, "paddingOuter": 0}, "axis": null}
       }}
     ],
     "resolve": {"scale": {"x": "independent", "y": "independent"}}},
    {"width": 231, "height": 156, "data": {"values": []}, "mark": "point"},
    {"width": 231, "height": 98, "title": {"text": "b", "dx": -6, "dy": -10}, "data": {"name": "dendB"},
     "layer": [
      {"mark": {"type": "rule", "color": "#1a1a1a", "strokeWidth": 1}, "encoding": {"x": {"field": "xl", "type": "quantitative", "scale": {"domain": [0, 60], "nice": false, "zero": false}, "axis": null}, "y": {"field": "hl", "type": "quantitative", "scale": {"domain": [0, 98], "nice": false}, "axis": null}, "y2": {"field": "h"}}},
      {"mark": {"type": "rule", "color": "#1a1a1a", "strokeWidth": 1}, "encoding": {"x": {"field": "xr", "type": "quantitative", "scale": {"domain": [0, 60], "nice": false, "zero": false}, "axis": null}, "y": {"field": "hr", "type": "quantitative", "scale": {"domain": [0, 98], "nice": false}, "axis": null}, "y2": {"field": "h"}}},
      {"mark": {"type": "rule", "color": "#1a1a1a", "strokeWidth": 1}, "encoding": {"x": {"field": "xl", "type": "quantitative", "scale": {"domain": [0, 60], "nice": false, "zero": false}, "axis": null}, "x2": {"field": "xr"}, "y": {"field": "h", "type": "quantitative", "scale": {"domain": [0, 98], "nice": false}, "axis": null}}}
     ]},
    {"width": 231, "height": 4, "data": {"values": []}, "mark": "point"},
    {"width": 231, "height": 231,
     "layer": [
      {"data": {"name": "heatB"}, "mark": {"type": "rect", "strokeWidth": 0.8},
       "encoding": {
        "x": {"field": "c", "type": "ordinal", "scale": {"paddingInner": 0, "paddingOuter": 0}, "axis": {"labels": false, "ticks": false, "domain": false, "title": "Patterns", "titleFontSize": 25, "titleColor": "#000", "titlePadding": 11}},
        "y": {"field": "r", "type": "ordinal", "sort": "descending", "scale": {"paddingInner": 0, "paddingOuter": 0}, "axis": null},
        "color": {"field": "v", "type": "quantitative", "scale": {"domain": [-1.105, 0, 1.105], "range": ["#ff0000", "#ffff00", "#0000ff"], "interpolate": "rgb"}, "legend": null},
        "stroke": {"field": "v", "type": "quantitative", "scale": {"domain": [-1.105, 0, 1.105], "range": ["#ff0000", "#ffff00", "#0000ff"], "interpolate": "rgb"}, "legend": null}
       }},
      {"data": {"name": "diag"}, "mark": {"type": "rect", "color": "#0000ff"},
       "encoding": {
        "x": {"field": "p", "type": "ordinal", "scale": {"paddingInner": 0, "paddingOuter": 0}, "axis": null},
        "y": {"field": "p", "type": "ordinal", "sort": "descending", "scale": {"paddingInner": 0, "paddingOuter": 0}, "axis": null}
       }}
     ],
     "resolve": {"scale": {"x": "independent", "y": "independent"}}},
    {"width": 231, "height": 76, "data": {"values": []}, "mark": "point"},
    {"bounds": "flush", "spacing": 0,
     "resolve": {"scale": {"color": "independent"}, "legend": {"color": "independent"}},
     "hconcat": [
      {"width": 49, "height": 1, "data": {"values": []}, "mark": "point"},
      {"width": 166, "height": 132, "view": {"stroke": "#262626", "strokeWidth": 1},
       "title": {"text": "c", "dx": -49, "dy": 13},
       "data": {"name": "groups"},
       "mark": {"type": "bar"},
       "encoding": {
        "x": {"field": "g", "type": "nominal", "sort": null, "scale": {"paddingInner": 0.16, "paddingOuter": 0.555}, "axis": null},
        "y": {"field": "R", "type": "quantitative", "scale": {"domain": [0, 1], "nice": false},
              "axis": {"values": [0, 0.5, 1], "format": "~g", "labelPadding": 9, "labelFontSize": 21, "title": "Rᵐˢ", "titleFontSize": 25, "titleColor": "#000", "titleAngle": 0, "titleAlign": "left", "titleBaseline": "alphabetic", "titleX": -56, "titleY": 50}},
        "color": {"field": "g", "type": "nominal", "scale": {"domain": ["100% random", "50% random", "25% random", "10% random", "Bio"], "range": ["#ee504e", "#eb913a", "#e8df26", "#8ee816", "#14e40a"]}, "legend": null}
       }}
     ]}
   ]},
  {"width": 359, "height": 1, "data": {"values": []}, "mark": "point"},
  {"bounds": "flush", "spacing": 0,
   "resolve": {"scale": {"color": "independent"}, "legend": {"color": "independent"}},
   "vconcat": [
    {"width": 279, "height": 72, "data": {"values": []}, "mark": "point"},
    {"width": 279, "height": 191, "view": {"stroke": "#262626", "strokeWidth": 1},
     "title": {"text": "d", "dx": -79, "dy": -31},
     "layer": [
      {"data": {"name": "pts"}, "mark": {"type": "circle", "size": 80, "opacity": 1},
       "encoding": {
        "x": {"field": "s", "type": "quantitative", "scale": {"domain": [-0.13, 0.78], "nice": false, "zero": false},
              "axis": {"values": [0, 0.2, 0.4, 0.6], "format": "~g", "labelFontSize": 21, "labelPadding": 22, "title": "σ", "titleFontSize": 22, "titleFontWeight": "normal", "titleX": 130, "titleY": 57, "titleBaseline": "alphabetic", "titleAlign": "center"}},
        "y": {"field": "R", "type": "quantitative", "scale": {"type": "log", "domain": [0.0001, 1], "nice": false},
              "axis": {"values": [0.0001, 0.01, 1], "labelExpr": "datum.value < 0.001 ? '10⁻⁴' : (datum.value < 0.1 ? '10⁻²' : '10⁰')", "labelFontSize": 20, "labelPadding": 15, "labelBaseline": "alphabetic", "labelOffset": 14, "title": "R", "titleFontSize": 23, "titleAngle": 0, "titleAlign": "left", "titleBaseline": "alphabetic", "titleX": -78, "titleY": 83}},
        "color": {"field": "g", "type": "nominal", "scale": {"domain": ["100% random", "50% random", "25% random", "10% random", "Bio"], "range": ["#ee504e", "#eb913a", "#e8df26", "#8ee816", "#14e40a"]}, "legend": null}
       }},
      {"data": {"values": [{}]}, "mark": {"type": "text", "text": "μ", "font": "Liberation Sans", "fontSize": 15, "align": "left", "baseline": "alphabetic", "color": "#262626"},
       "encoding": {"x": {"datum": -0.322}, "y": {"datum": 0.0377}}},
      {"data": {"values": [{}]}, "mark": {"type": "text", "text": "μ", "font": "Liberation Sans", "fontSize": 15, "align": "left", "baseline": "alphabetic", "color": "#262626"},
       "encoding": {"x": {"datum": 0.317}, "y": {"datum": 0.00000855}}}
     ]},
    {"width": 279, "height": 137, "data": {"values": []}, "mark": "point"},
    {"bounds": "flush", "spacing": 0,
     "resolve": {"scale": {"color": "independent"}, "legend": {"color": "independent"}},
     "hconcat": [
      {"width": 95, "height": 141, "view": {"stroke": "#262626", "strokeWidth": 1},
       "title": {"text": "e", "dx": -69, "dy": -4},
       "data": {"name": "hist"}, "transform": [{"filter": {"field": "g", "equal": "100% random"}}],
       "mark": {"type": "area", "line": {"strokeWidth": 1}, "clip": true},
       "encoding": {
        "x": {"field": "E", "type": "quantitative", "scale": {"domain": [-0.55, -0.3], "nice": false, "zero": false},
              "axis": {"values": [-0.5, -0.4, -0.3], "labelExpr": "datum.value < -0.45 ? '-0.5' : (datum.value > -0.35 ? '-0.3' : '')", "labelPadding": 20, "title": "E/N", "titleFontSize": 25, "titleBaseline": "alphabetic", "titleY": 62}},
        "y": {"field": "S", "type": "quantitative", "scale": {"domain": [0, 10], "nice": false},
              "axis": {"values": [0, 5, 10], "format": "d", "labelPadding": 18, "title": "S", "titleFontSize": 21, "titleAngle": 0, "titleAlign": "left", "titleBaseline": "alphabetic", "titleX": -63, "titleY": 97}},
        "color": {"field": "g", "type": "nominal", "scale": {"domain": ["100% random", "50% random", "25% random", "10% random", "Bio"], "range": ["#ee504e", "#eb913a", "#e8df26", "#8ee816", "#14e40a"]}, "legend": null}
       }},
      {"width": 101, "height": 1, "data": {"values": []}, "mark": "point"},
      {"width": 95, "height": 141, "view": {"stroke": "#262626", "strokeWidth": 1},
       "data": {"name": "hist"}, "transform": [{"filter": {"field": "g", "equal": "50% random"}}],
       "mark": {"type": "area", "line": {"strokeWidth": 1}, "clip": true},
       "encoding": {
        "x": {"field": "E", "type": "quantitative", "scale": {"domain": [-0.55, -0.3], "nice": false, "zero": false},
              "axis": {"values": [-0.5, -0.4, -0.3], "labelExpr": "datum.value < -0.45 ? '-0.5' : (datum.value > -0.35 ? '-0.3' : '')", "labelPadding": 20, "title": "E/N", "titleFontSize": 25, "titleBaseline": "alphabetic", "titleY": 62}},
        "y": {"field": "S", "type": "quantitative", "scale": {"domain": [0, 10], "nice": false},
              "axis": {"values": [0, 5, 10], "format": "d", "labelPadding": 18, "title": "S", "titleFontSize": 21, "titleAngle": 0, "titleAlign": "left", "titleBaseline": "alphabetic", "titleX": -45, "titleY": 58}},
        "color": {"field": "g", "type": "nominal", "scale": {"domain": ["100% random", "50% random", "25% random", "10% random", "Bio"], "range": ["#ee504e", "#eb913a", "#e8df26", "#8ee816", "#14e40a"]}, "legend": null}
       }}
     ]},
    {"width": 279, "height": 232, "data": {"values": []}, "mark": "point"},
    {"bounds": "flush", "spacing": 0,
     "resolve": {"scale": {"color": "independent"}, "legend": {"color": "independent"}},
     "hconcat": [
      {"width": 95, "height": 141, "view": {"stroke": "#262626", "strokeWidth": 1},
       "data": {"name": "hist"}, "transform": [{"filter": {"field": "g", "equal": "25% random"}}],
       "mark": {"type": "area", "line": {"strokeWidth": 1}, "clip": true},
       "encoding": {
        "x": {"field": "E", "type": "quantitative", "scale": {"domain": [-0.55, -0.3], "nice": false, "zero": false},
              "axis": {"values": [-0.5, -0.4, -0.3], "labelExpr": "datum.value < -0.45 ? '-0.5' : (datum.value > -0.35 ? '-0.3' : '')", "labelPadding": 20, "title": "E/N", "titleFontSize": 25, "titleBaseline": "alphabetic", "titleY": 66}},
        "y": {"field": "S", "type": "quantitative", "scale": {"domain": [0, 10], "nice": false},
              "axis": {"values": [0, 5, 10], "format": "d", "labelPadding": 18, "title": "S", "titleFontSize": 21, "titleAngle": 0, "titleAlign": "left", "titleBaseline": "alphabetic", "titleX": -63, "titleY": 95}},
        "color": {"field": "g", "type": "nominal", "scale": {"domain": ["100% random", "50% random", "25% random", "10% random", "Bio"], "range": ["#ee504e", "#eb913a", "#e8df26", "#8ee816", "#14e40a"]}, "legend": null}
       }},
      {"width": 101, "height": 1, "data": {"values": []}, "mark": "point"},
      {"width": 95, "height": 141, "view": {"stroke": "#262626", "strokeWidth": 1},
       "data": {"name": "hist"}, "transform": [{"filter": {"field": "g", "equal": "10% random"}}],
       "mark": {"type": "area", "line": {"strokeWidth": 1}, "clip": true},
       "encoding": {
        "x": {"field": "E", "type": "quantitative", "scale": {"domain": [-0.55, -0.3], "nice": false, "zero": false},
              "axis": {"values": [-0.5, -0.4, -0.3], "labelExpr": "datum.value < -0.45 ? '-0.5' : (datum.value > -0.35 ? '-0.3' : '')", "labelPadding": 20, "title": "E/N", "titleFontSize": 25, "titleBaseline": "alphabetic", "titleY": 66}},
        "y": {"field": "S", "type": "quantitative", "scale": {"domain": [0, 10], "nice": false},
              "axis": {"values": [0, 5, 10], "format": "d", "labelPadding": 18, "title": "S", "titleFontSize": 21, "titleAngle": 0, "titleAlign": "left", "titleBaseline": "alphabetic", "titleX": -45, "titleY": 58}},
        "color": {"field": "g", "type": "nominal", "scale": {"domain": ["100% random", "50% random", "25% random", "10% random", "Bio"], "range": ["#ee504e", "#eb913a", "#e8df26", "#8ee816", "#14e40a"]}, "legend": null}
       }}
     ]},
    {"width": 279, "height": 218, "data": {"values": []}, "mark": "point"},
    {"bounds": "flush", "spacing": 0,
     "resolve": {"scale": {"color": "independent"}, "legend": {"color": "independent"}},
     "hconcat": [
      {"width": 196, "height": 1, "data": {"values": []}, "mark": "point"},
      {"width": 95, "height": 141, "view": {"stroke": "#262626", "strokeWidth": 1},
       "data": {"name": "hist"}, "transform": [{"filter": {"field": "g", "equal": "Bio"}}],
       "mark": {"type": "area", "line": {"strokeWidth": 1}, "clip": true},
       "encoding": {
        "x": {"field": "E", "type": "quantitative", "scale": {"domain": [-0.55, -0.3], "nice": false, "zero": false},
              "axis": {"values": [-0.5, -0.4, -0.3], "labelExpr": "datum.value < -0.45 ? '-0.5' : (datum.value > -0.35 ? '-0.3' : '')", "labelPadding": 20, "title": "E/N", "titleFontSize": 25, "titleBaseline": "alphabetic", "titleY": 66}},
        "y": {"field": "S", "type": "quantitative", "scale": {"domain": [0, 10], "nice": false},
              "axis": {"values": [0, 5, 10], "format": "d", "labelPadding": 18, "title": "S", "titleFontSize": 21, "titleAngle": 0, "titleAlign": "left", "titleBaseline": "alphabetic", "titleX": -45, "titleY": 53}},
        "color": {"field": "g", "type": "nominal", "scale": {"domain": ["100% random", "50% random", "25% random", "10% random", "Bio"], "range": ["#ee504e", "#eb913a", "#e8df26", "#8ee816", "#14e40a"]},
                  "legend": {"orient": "none", "legendX": -241, "legendY": 46, "title": null, "symbolType": "M-1.786,-0.593H1.786V0.593H-1.786Z", "symbolSize": 196, "symbolStrokeWidth": 0, "symbolOpacity": 1, "labelFont": "Liberation Sans", "labelFontSize": 20, "labelFontWeight": "bold", "labelColor": "#000", "strokeColor": "#000", "fillColor": "#fff", "padding": 6, "rowPadding": 5, "labelOffset": 12, "symbolOffset": 5}}
       }}
     ]}
   ]}
]
}
